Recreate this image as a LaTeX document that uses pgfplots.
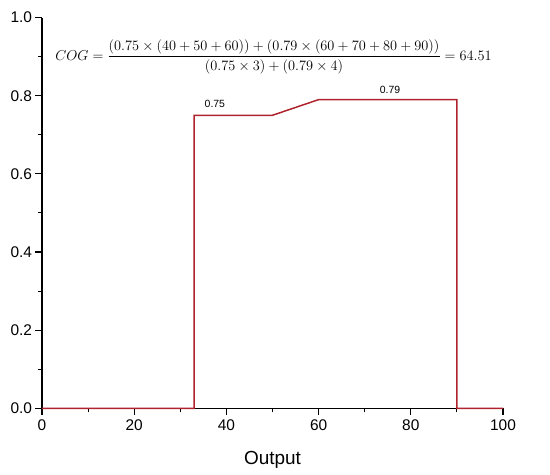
\documentclass[border=0pt]{standalone}
\usepackage{pgfplots}
\pgfplotsset{compat=1.18}
\usepackage{fontspec}
\setmainfont{Liberation Sans}
\definecolor{cogred}{RGB}{175,35,45}
\begin{document}
\begin{tikzpicture}[x=1bp,y=1bp]
\path[use as bounding box] (-42,-66.7) rectangle (508,408.3);
\begin{axis}[
  at={(0,0)}, anchor=origin,
  scale only axis, width=461bp, height=390.7bp,
  xmin=0, xmax=100, ymin=0, ymax=1,
  axis x line*=bottom, axis y line*=left,
  axis line style={line width=1.1pt, black},
  tick align=outside,
  major tick length=6.5bp, minor tick length=4bp,
  tick style={line width=1.1pt, black},
  xtick={0,20,...,100}, ytick={0,0.2,...,1.0},
  minor x tick num=1, minor y tick num=1,
  yticklabel style={/pgf/number format/.cd, fixed, fixed zerofill, precision=1},
  /pgf/number format/assume math mode=true,
  ticklabel style={font=\fontsize{15.5}{18}\selectfont},
  xticklabel style={yshift=-1bp},
  xlabel={Output},
  xlabel style={font=\fontsize{19}{22}\selectfont, yshift=-14bp},
  clip=false,
]
\addplot[cogred, line width=1.5pt, mark=none] coordinates {
 (0,0) (33,0) (33,0.75) (50,0.75) (60,0.79) (90,0.79) (90,0) (100,0)
};
\node[font=\fontsize{10.5}{12}\selectfont] at (axis cs:37.5,0.779) {0.75};
\node[font=\fontsize{10.5}{12}\selectfont] at (axis cs:75.5,0.815) {0.79};
\node[font=\fontsize{13.5}{16}\selectfont] at (axis cs:50.2,0.9) {$\displaystyle COG=\frac{(0.75\times(40+50+60))+(0.79\times(60+70+80+90))}{(0.75\times3)+(0.79\times4)}=64.51$};
\end{axis}
\end{tikzpicture}
\end{document}
